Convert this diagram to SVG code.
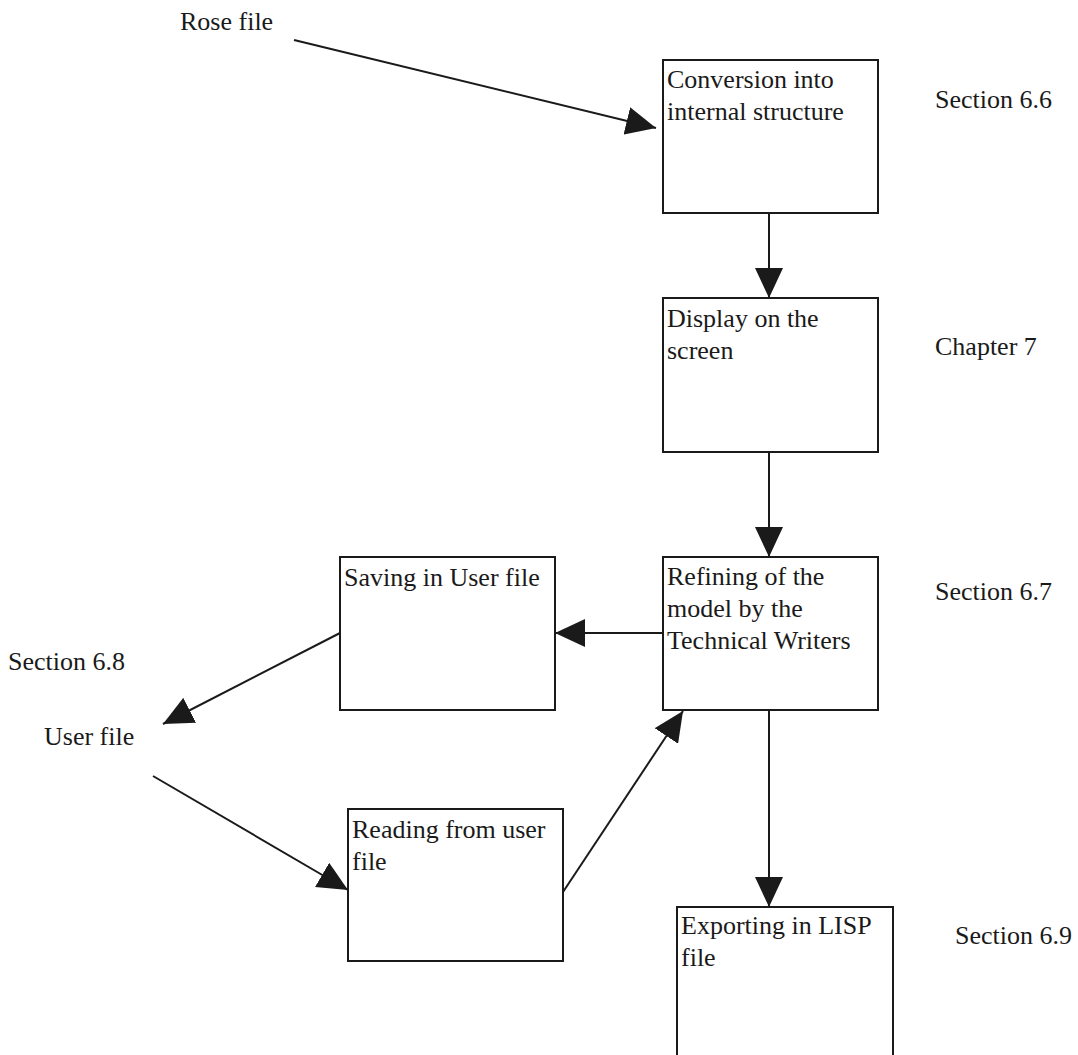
<svg xmlns="http://www.w3.org/2000/svg" width="1078" height="1055" viewBox="0 0 1078 1055">
<defs>
<marker id="ah" viewBox="0 0 30 28" refX="30" refY="14" markerWidth="30" markerHeight="28" markerUnits="userSpaceOnUse" orient="auto">
<path d="M0,0 L30,14 L0,28 Z" fill="#1a1a1a"/>
</marker>
<style>
.box{fill:#ffffff;stroke:#1a1a1a;stroke-width:2}
.t{font-family:"Liberation Serif","Times New Roman",serif;font-size:26px;fill:#1a1a1a}
.c{stroke:#1a1a1a;stroke-width:2;fill:none;marker-end:url(#ah)}
</style>
</defs>
<rect width="1078" height="1055" fill="#ffffff"/>
<g id="labels">
<text class="t" x="180" y="30">Rose file</text>
<text class="t" x="935" y="108">Section 6.6</text>
<text class="t" x="935" y="355">Chapter 7</text>
<text class="t" x="935" y="600">Section 6.7</text>
<text class="t" x="8" y="670">Section 6.8</text>
<text class="t" x="44" y="745">User file</text>
<text class="t" x="955" y="944">Section 6.9</text>
</g>
<g id="connectors">
<line class="c" x1="294" y1="40" x2="656" y2="128"/>
<line class="c" x1="769" y1="213" x2="769" y2="298"/>
<line class="c" x1="769" y1="452" x2="769" y2="557"/>
<line class="c" x1="663" y1="633" x2="555" y2="633"/>
<line class="c" x1="340" y1="633" x2="163" y2="724"/>
<line class="c" x1="153" y1="776" x2="348" y2="890"/>
<line class="c" x1="563" y1="892" x2="683" y2="711"/>
<line class="c" x1="769" y1="710" x2="769" y2="907"/>
</g>
<g id="n-conversion">
<rect class="box" x="663" y="60" width="215" height="153"/>
<text class="t" x="667" y="88">Conversion into</text>
<text class="t" x="667" y="120">internal structure</text>
</g>
<g id="n-display">
<rect class="box" x="663" y="298" width="215" height="154"/>
<text class="t" x="667" y="327">Display on the</text>
<text class="t" x="667" y="359">screen</text>
</g>
<g id="n-refining">
<rect class="box" x="663" y="557" width="215" height="153"/>
<text class="t" x="667" y="585">Refining of the</text>
<text class="t" x="667" y="617">model by the</text>
<text class="t" x="667" y="649">Technical Writers</text>
</g>
<g id="n-saving">
<rect class="box" x="340" y="557" width="215" height="153"/>
<text class="t" x="344" y="586">Saving in User file</text>
</g>
<g id="n-reading">
<rect class="box" x="348" y="809" width="215" height="152"/>
<text class="t" x="352" y="838">Reading from user</text>
<text class="t" x="352" y="870">file</text>
</g>
<g id="n-exporting">
<rect class="box" x="677" y="907" width="216" height="160"/>
<text class="t" x="681" y="934">Exporting in LISP</text>
<text class="t" x="681" y="966">file</text>
</g>
</svg>
